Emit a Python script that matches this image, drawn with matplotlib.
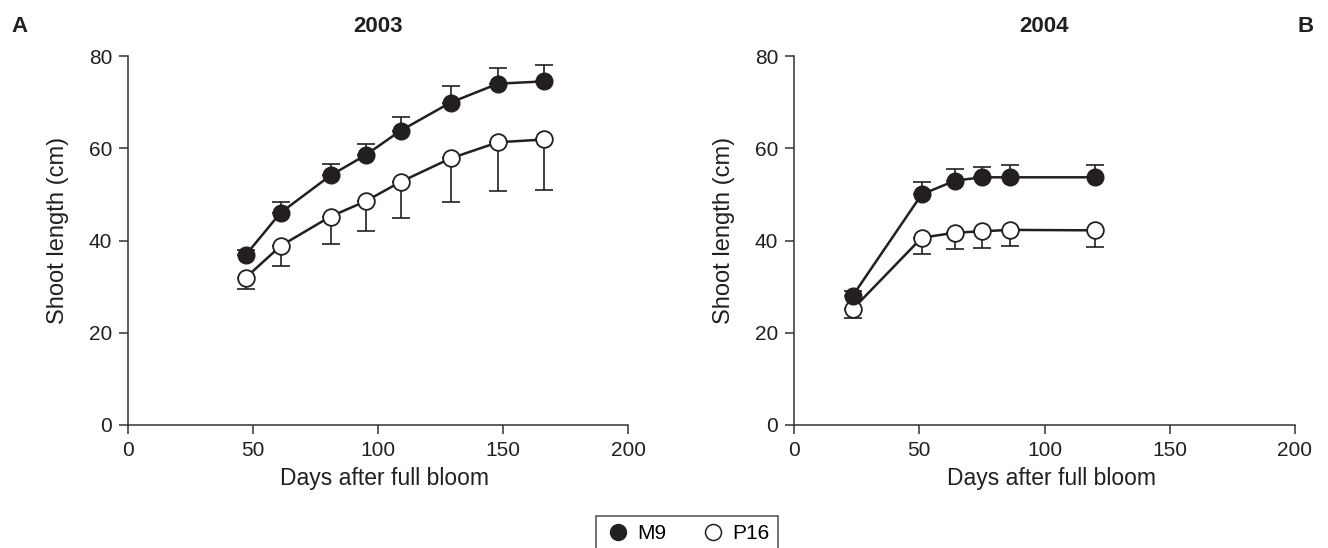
import matplotlib
matplotlib.use("Agg")
import matplotlib.pyplot as plt
from matplotlib.lines import Line2D
import numpy as np

plt.rcParams['font.family'] = ['Liberation Sans', 'DejaVu Sans']

# ---- Data ----
# 2003 (panel A)
days_2003 = [47, 61, 81, 95, 109, 129, 148, 166.5]
m9_2003 = [36.8, 46.0, 54.1, 58.5, 63.8, 69.9, 74.0, 74.5]
m9_2003_err = [1.2, 2.3, 2.4, 2.5, 2.9, 3.5, 3.4, 3.6]
p16_2003 = [31.9, 38.8, 45.2, 48.5, 52.7, 57.8, 61.3, 61.9]
p16_2003_err = [2.5, 4.3, 6.0, 6.5, 7.8, 9.5, 10.6, 10.9]

# 2004 (panel B)
days_2004 = [23.4, 51, 64.4, 75.2, 86.3, 120.2]
m9_2004 = [28.0, 50.0, 53.0, 53.7, 53.7, 53.7]
m9_2004_err = [1.0, 2.7, 2.4, 2.2, 2.7, 2.7]
p16_2004 = [25.1, 40.6, 41.7, 42.0, 42.3, 42.2]
p16_2004_err = [1.8, 3.5, 3.6, 3.6, 3.6, 3.7]

xticks = [0, 50, 100, 150, 200]
yticks = [0, 20, 40, 60, 80]
titles = ['2003', '2004']
panel_labels = ['A', 'B']
series_names = ['M9', 'P16']

ink = '#231f20'
W, H = 1328, 548
fig = plt.figure(figsize=(W / 100, H / 100), dpi=100)

ax_top, ax_bot = 56, 425
ax_a = fig.add_axes([128 / W, 1 - ax_bot / H, 500 / W, (ax_bot - ax_top) / H])
ax_b = fig.add_axes([794 / W, 1 - ax_bot / H, 501 / W, (ax_bot - ax_top) / H])

datasets = [
    (ax_a, days_2003, m9_2003, m9_2003_err, p16_2003, p16_2003_err),
    (ax_b, days_2004, m9_2004, m9_2004_err, p16_2004, p16_2004_err),
]

for i, (ax, d, m, me, p, pe) in enumerate(datasets):
    zeros_m = np.zeros(len(m))
    zeros_p = np.zeros(len(p))
    ax.errorbar(d, m, yerr=[zeros_m, me], fmt='none', ecolor=ink,
                elinewidth=1.2, capsize=6.3, capthick=1.2, zorder=2)
    ax.errorbar(d, p, yerr=[pe, zeros_p], fmt='none', ecolor=ink,
                elinewidth=1.2, capsize=6.3, capthick=1.2, zorder=2)
    ax.plot(d, m, '-o', color=ink, lw=1.8, ms=12, mfc=ink, mec=ink,
            mew=1.0, zorder=4)
    ax.plot(d, p, '-o', color=ink, lw=1.8, ms=12, mfc='white', mec=ink,
            mew=1.3, zorder=3)

    ax.set_xlim(0, 200)
    ax.set_ylim(0, 80)
    ax.set_xticks(xticks)
    ax.set_yticks(yticks)
    for s in ['top', 'right']:
        ax.spines[s].set_visible(False)
    for s in ['left', 'bottom']:
        ax.spines[s].set_color('#333333')
        ax.spines[s].set_linewidth(1.1)
    ax.tick_params(direction='out', length=6.5, width=1.1, colors='#333333',
                   labelsize=15, labelcolor=ink, pad=5)
    ax.set_xlabel('Days after full bloom', fontsize=16.5, color=ink)
    ax.set_ylabel('Shoot length (cm)', fontsize=17, color=ink)
    ax.xaxis.set_label_coords(0.514, -0.114)
    ax.yaxis.set_label_coords(-0.118, 0.526)
    ax.patch.set_visible(False)

# titles
fig.text((128 + 250) / W, 1 - 26 / H, titles[0], ha='center', va='center',
         fontsize=16, fontweight='bold', color=ink)
fig.text((794 + 250.5) / W, 1 - 26 / H, titles[1], ha='center', va='center',
         fontsize=16, fontweight='bold', color=ink)
fig.text(19 / W, 1 - 26 / H, panel_labels[0], ha='center', va='center',
         fontsize=16, fontweight='bold', color=ink)
fig.text(1306 / W, 1 - 26 / H, panel_labels[1], ha='center', va='center',
         fontsize=16, fontweight='bold', color=ink)

handles = [
    Line2D([], [], ls='none', marker='o', ms=11.5, mfc=ink, mec=ink),
    Line2D([], [], ls='none', marker='o', ms=11.5, mfc='white', mec=ink, mew=1.1),
]
leg = fig.legend(handles, series_names, loc='upper center',
                 bbox_to_anchor=(686.5 / W, 1 - 516 / H), ncol=2,
                 frameon=True, fancybox=False, fontsize=15,
                 handlelength=1.4, handletextpad=0.2, columnspacing=1.55,
                 borderpad=0.4, borderaxespad=0, markerscale=1.0)
leg.get_frame().set_edgecolor(ink)
leg.get_frame().set_linewidth(1.1)

fig.savefig('out.png', dpi=100)
